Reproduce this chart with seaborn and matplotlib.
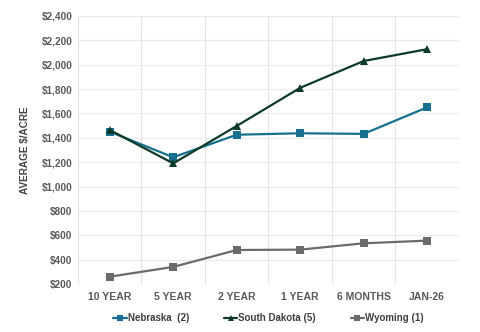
import matplotlib
matplotlib.use("Agg")
import matplotlib.pyplot as plt
import seaborn as sns
import pandas as pd
from matplotlib.ticker import FuncFormatter, FixedLocator

categories = ["10 YEAR", "5 YEAR", "2 YEAR", "1 YEAR", "6 MONTHS", "JAN-26"]
nebraska = [1450, 1240, 1425, 1437, 1432, 1650]
south_dakota = [1464, 1190, 1497, 1810, 2030, 2127]
wyoming = [260, 340, 479, 482, 534, 556]
series_names = ["Nebraska  (2)", "South Dakota (5)", "Wyoming (1)"]
colors = ["#17708f", "#0e3a2a", "#6b6b6b"]
markers = ["s", "^", "s"]

rows = []
for name, vals in zip(series_names, [nebraska, south_dakota, wyoming]):
    for c, v in zip(categories, vals):
        rows.append({"cat": c, "value": v, "series": name})
df = pd.DataFrame(rows)

sns.set_style("white")
plt.rcParams["font.family"] = ["Liberation Sans", "DejaVu Sans"]

fig = plt.figure(figsize=(4.8, 3.32), dpi=100)
ax = fig.add_axes([0.1625, 0.1446, 0.7935, 0.8074])

sns.lineplot(data=df, x="cat", y="value", hue="series", style="series",
             palette=dict(zip(series_names, colors)),
             markers=dict(zip(series_names, markers)), dashes=False,
             markersize=5.5, linewidth=1.6, markeredgewidth=0, sort=False, ax=ax)

ax.set_xlim(-0.5, len(categories) - 0.5)
ax.set_ylim(200, 2400)
ax.set_yticks(range(200, 2401, 200))
ax.yaxis.set_major_formatter(FuncFormatter(lambda v, p: f"${int(v):,}"))
ax.xaxis.set_minor_locator(FixedLocator([i - 0.5 for i in range(len(categories) + 1)]))
ax.grid(False)
ax.grid(True, which="minor", axis="x", color="#e3e3e3", linewidth=0.8)
ax.grid(True, which="major", axis="y", color="#ebebeb", linewidth=0.8)
for s in ax.spines.values():
    s.set_visible(False)
ax.tick_params(axis="both", which="both", length=0)
ax.tick_params(axis="x", pad=6)
ax.tick_params(axis="y", pad=4)
for lbl in ax.get_xticklabels():
    lbl.set_fontsize(7.5)
    lbl.set_fontweight("bold")
    lbl.set_color("#595959")
for lbl in ax.get_yticklabels():
    lbl.set_fontsize(7.2)
    lbl.set_fontweight("bold")
    lbl.set_color("#595959")
ax.set_xlabel("")
ax.set_ylabel("AVERAGE $/ACRE", fontsize=7.2, fontweight="bold", color="#404040", labelpad=8)

handles, labels = ax.get_legend_handles_labels()
ax.legend(handles, labels, loc="center", bbox_to_anchor=(0.5, -0.127), ncol=3,
          frameon=False, handlelength=1.35, handletextpad=0.1, columnspacing=3.6,
          markerscale=0.75,
          prop={"size": 7, "weight": "bold"}, labelcolor="#404040")

fig.savefig("out.png", dpi=100)
